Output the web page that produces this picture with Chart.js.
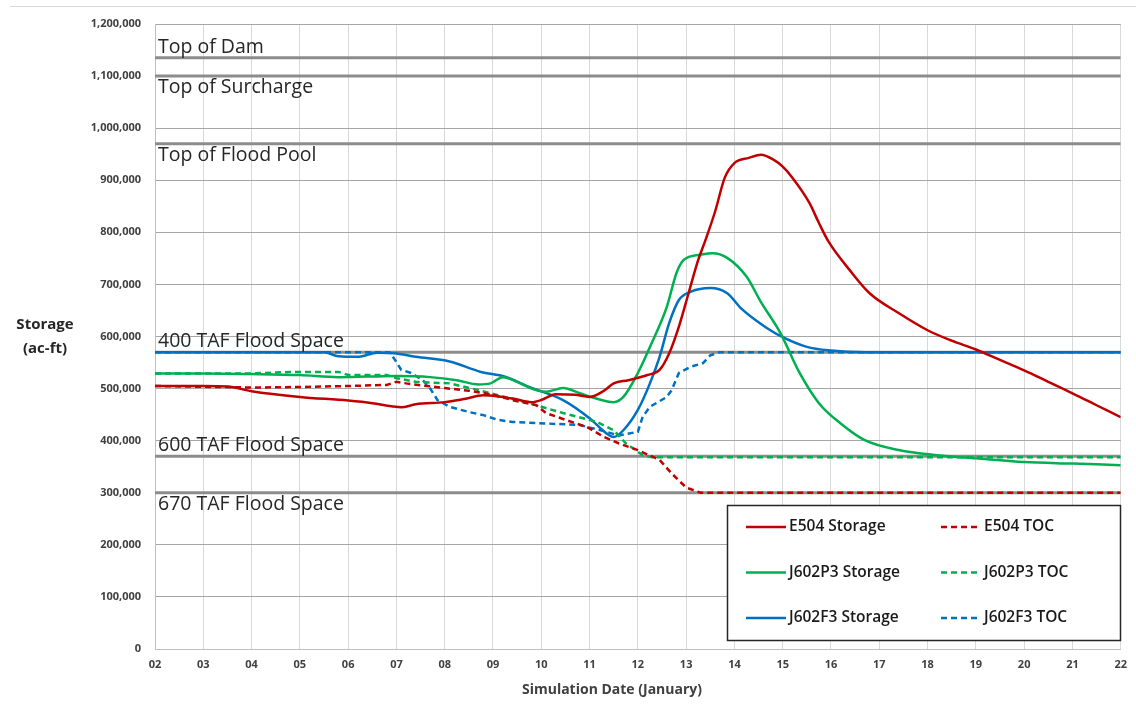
<!DOCTYPE html>
<html>
<head>
<meta charset="utf-8">
<script src="https://cdn.jsdelivr.net/npm/chart.js@4.4.1/dist/chart.umd.min.js"></script>
<style>
  body { margin: 0; background: #fff; }
  canvas { display: block; }
</style>
</head>
<body>
<canvas id="storageChart" width="1136" height="709"></canvas>
<script>
// x축 눈금 (1월 날짜)
const xTickLabels = ['02', '03', '04', '05', '06', '07', '08', '09', '10', '11', '12',
                     '13', '14', '15', '16', '17', '18', '19', '20', '21', '22'];

// E504
const e504StorageDays = [2, 3, 3.5, 4, 5, 6, 6.5, 6.9, 7.1, 7.4, 8, 8.4, 8.8, 9.1, 9.4, 9.8, 10.0, 10.3, 10.7, 11.0,
                         11.3, 11.5, 11.8, 12.2, 12.45, 12.65, 12.85, 13.05, 13.25, 13.4, 13.6, 13.8, 14.0, 14.3, 14.55,
                         14.8, 15.0, 15.2, 15.55, 15.75, 15.95, 16.4, 16.8, 17.4, 18.0, 18.5, 19.0, 19.5, 20.0, 20.5,
                         21.0, 21.5, 22];
const e504Storage = [505000, 505000, 504000, 495000, 484000, 477000, 472000, 466000, 464000, 470000, 474000, 480000,
                     487000, 485000, 481000, 474000, 478000, 489000, 488000, 484000, 496000, 510000, 516000, 526000,
                     536000, 568000, 619000, 683000, 747000, 785000, 840000, 905000, 933000, 943000, 949000, 940000,
                     926000, 905000, 857000, 818000, 782000, 726000, 683000, 645000, 612000, 592000, 575000, 555000,
                     535000, 513000, 491000, 468000, 445000];
const e504TocDays = [2, 4, 5, 6, 6.8, 7.0, 7.2, 7.45, 8.0, 8.5, 9.05, 9.4, 9.9, 10.1, 10.5, 10.95, 11.3, 11.6, 12.0,
                     12.45, 12.7, 13.0, 13.3, 22];
const e504Toc = [505000, 502000, 503000, 505000, 507000, 513000, 510000, 507000, 501000, 496000, 487000, 478000,
                 468000, 453000, 440000, 426000, 407000, 395000, 382000, 363000, 337000, 310000, 300000, 300000];

// J602P3
const j602p3StorageDays = [2, 3, 4, 5, 5.8, 6.4, 7.0, 7.7, 8.25, 8.7, 8.95, 9.2, 9.5, 9.8, 10.1, 10.45, 10.8, 11.1,
                           11.5, 11.7, 12.0, 12.25, 12.6, 12.8, 12.95, 13.3, 13.55, 13.85, 14.25, 14.55, 14.95, 15.35,
                           15.75, 16.2, 16.7, 17.4, 18.2, 19.0, 20.0, 21.0, 22];
const j602p3Storage = [529000, 529000, 528000, 526000, 522000, 523000, 524000, 522000, 516000, 508000, 510000, 522000,
                       513000, 500000, 494000, 501000, 491000, 482000, 474000, 484000, 530000, 580000, 657000, 722000,
                       747000, 757000, 760000, 751000, 715000, 666000, 607000, 530000, 472000, 433000, 401000, 382000,
                       372000, 366000, 359000, 356000, 353000];
const j602p3TocDays = [2, 4, 4.8, 5.8, 6.0, 6.8, 7.0, 7.4, 8.1, 8.7, 9.75, 10.45, 11.15, 11.5, 11.75, 12.1, 12.3, 22];
const j602p3Toc = [529000, 529000, 532000, 532000, 526000, 526000, 520000, 513000, 510000, 497000, 472000, 453000,
                   436000, 420000, 395000, 372000, 368000, 368000];

// J602F3
const j602f3StorageDays = [2, 5.5, 5.8, 6.2, 6.6, 6.95, 7.4, 8.1, 8.75, 9.25, 9.75, 10.45, 11.0, 11.35, 11.5, 11.7,
                           12.0, 12.25, 12.45, 12.65, 12.85, 13.1, 13.5, 13.85, 14.15, 14.55, 14.95, 15.5, 16.0, 16.7, 22];
const j602f3Storage = [570000, 570000, 562000, 561000, 569000, 568000, 561000, 552000, 532000, 523000, 503000, 478000,
                       443000, 414000, 407000, 420000, 459000, 510000, 561000, 626000, 670000, 686000, 693000, 683000,
                       653000, 624000, 601000, 580000, 573000, 570000, 570000];
const j602f3TocDays = [2, 6.85, 6.95, 7.1, 7.3, 7.55, 7.7, 7.85, 8.1, 8.5, 8.8, 9.1, 9.4, 10.1, 10.8, 11.35, 11.6,
                       12.0, 12.1, 12.25, 12.6, 12.7, 12.85, 13.1, 13.35, 13.5, 13.7, 22];
const j602f3Toc = [570000, 570000, 558000, 536000, 530000, 516000, 500000, 478000, 465000, 455000, 449000, 440000,
                   436000, 433000, 430000, 417000, 410000, 417000, 446000, 465000, 484000, 497000, 530000, 542000,
                   549000, 564000, 570000, 570000];

// 기준선 (저수량 ac-ft)
const refLineLabels = ['Top of Dam', 'Top of Surcharge', 'Top of Flood Pool',
                       '400 TAF Flood Space', '600 TAF Flood Space', '670 TAF Flood Space'];
const refLineValues = [1135000, 1100000, 970000, 570000, 370000, 300000];

const RED = '#C00000';
const GREEN = '#00B050';
const BLUE = '#0070C0';

// 선 아래쪽에 라벨을 쓰는 기준선
const labelBelow = { 'Top of Surcharge': true, 'Top of Flood Pool': true, '670 TAF Flood Space': true };

function toPoints(days, values) {
    return days.map((d, i) => ({ x: d, y: values[i] }));
}

function seriesDataset(label, days, values, color, dashed) {
    return {
        label: label,
        data: toPoints(days, values),
        borderColor: color,
        backgroundColor: color,
        borderWidth: 2.5,
        borderDash: dashed ? [6, 4] : [],
        cubicInterpolationMode: dashed ? 'default' : 'monotone',
        tension: 0,
        pointRadius: 0,
        order: 1
    };
}

const refDatasets = refLineLabels.map((name, i) => ({
    label: name,
    data: [{ x: 2, y: refLineValues[i] }, { x: 22, y: refLineValues[i] }],
    borderColor: '#8c8c8c',
    borderWidth: 3,
    pointRadius: 0,
    refLine: true,
    order: 10
}));

// 기준선 이름
const refLabelPlugin = {
    id: 'refLabels',
    afterDatasetsDraw(chart) {
        const { ctx, chartArea, scales } = chart;
        ctx.save();
        ctx.font = '19.5px "Open Sans"';
        ctx.fillStyle = '#262626';
        chart.data.datasets.filter(ds => ds.refLine).forEach(ds => {
            const y = scales.y.getPixelForValue(ds.data[0].y);
            if (labelBelow[ds.label]) {
                ctx.textBaseline = 'top';
                ctx.fillText(ds.label, chartArea.left + 3, y + 2);
            } else {
                ctx.textBaseline = 'bottom';
                ctx.fillText(ds.label, chartArea.left + 3, y - 1);
            }
        });
        ctx.restore();
    }
};

// 축 제목 + 상단 테두리
const axisTitlePlugin = {
    id: 'axisTitles',
    afterDraw(chart) {
        const { ctx } = chart;
        ctx.save();
        ctx.strokeStyle = '#d9d9d9';
        ctx.lineWidth = 1;
        ctx.beginPath();
        ctx.moveTo(10, 6.5);
        ctx.lineTo(1136, 6.5);
        ctx.stroke();

        ctx.fillStyle = '#262626';
        ctx.textAlign = 'center';
        ctx.textBaseline = 'middle';
        ctx.font = 'bold 15px "Open Sans"';
        ctx.fillText('Storage', 45, 325);
        ctx.fillText('(ac-ft)', 45, 349);
        ctx.font = 'bold 14px "Open Sans"';
        ctx.fillStyle = '#404040';
        ctx.fillText('Simulation Date (January)', 612, 690);
        ctx.restore();
    }
};

// 플롯 안쪽 박스 범례
const boxLegendPlugin = {
    id: 'boxLegend',
    afterDraw(chart) {
        const { ctx } = chart;
        const box = { x: 727.5, y: 505.5, w: 393, h: 135 };
        ctx.save();
        ctx.fillStyle = '#fff';
        ctx.fillRect(box.x, box.y, box.w, box.h);
        ctx.strokeStyle = '#262626';
        ctx.lineWidth = 1.5;
        ctx.strokeRect(box.x, box.y, box.w, box.h);

        ctx.font = '600 15.5px "Open Sans"';
        ctx.textBaseline = 'middle';
        chart.data.datasets.filter(ds => !ds.refLine).forEach((ds, i) => {
            const col = i % 2;
            const row = Math.floor(i / 2);
            const y = 527 + row * 45.5;
            const x0 = col === 0 ? 746 : 941;
            ctx.strokeStyle = ds.borderColor;
            ctx.lineWidth = 2.5;
            ctx.setLineDash(ds.borderDash);
            ctx.beginPath();
            ctx.moveTo(x0, y);
            ctx.lineTo(x0 + 40, y);
            ctx.stroke();
            ctx.setLineDash([]);
            ctx.fillStyle = '#1a1a1a';
            ctx.fillText(ds.label, x0 + 43, y);
        });
        ctx.restore();
    }
};

const chart = new Chart(document.getElementById('storageChart'), {
    type: 'line',
    data: {
        datasets: [
            seriesDataset('E504 Storage', e504StorageDays, e504Storage, RED, false),
            seriesDataset('E504 TOC', e504TocDays, e504Toc, RED, true),
            seriesDataset('J602P3 Storage', j602p3StorageDays, j602p3Storage, GREEN, false),
            seriesDataset('J602P3 TOC', j602p3TocDays, j602p3Toc, GREEN, true),
            seriesDataset('J602F3 Storage', j602f3StorageDays, j602f3Storage, BLUE, false),
            seriesDataset('J602F3 TOC', j602f3TocDays, j602f3Toc, BLUE, true),
            ...refDatasets
        ]
    },
    options: {
        responsive: false,
        animation: false,
        layout: { padding: { top: 24, right: 14, left: 0, bottom: 0 } },
        plugins: {
            legend: { display: false },
            tooltip: { enabled: false }
        },
        scales: {
            x: {
                type: 'linear',
                min: 2,
                max: 22,
                afterFit: scale => { scale.height = 60; },
                ticks: {
                    stepSize: 1,
                    autoSkip: false,
                    maxRotation: 0,
                    padding: 9,
                    color: '#404040',
                    font: { family: 'Open Sans', size: 11, weight: 'bold' },
                    callback: v => xTickLabels[v - 2]
                },
                grid: { color: '#d9d9d9', drawTicks: false },
                border: { color: '#bfbfbf' }
            },
            y: {
                min: 0,
                max: 1200000,
                afterFit: scale => { scale.width = 155; },
                ticks: {
                    stepSize: 100000,
                    padding: 14,
                    color: '#404040',
                    font: { family: 'Open Sans', size: 11, weight: 'bold' },
                    callback: v => v.toLocaleString('en-US')
                },
                grid: { color: '#a6a6a6', drawTicks: false },
                border: { color: '#bfbfbf' }
            }
        }
    },
    plugins: [refLabelPlugin, axisTitlePlugin, boxLegendPlugin]
});
</script>
</body>
</html>
